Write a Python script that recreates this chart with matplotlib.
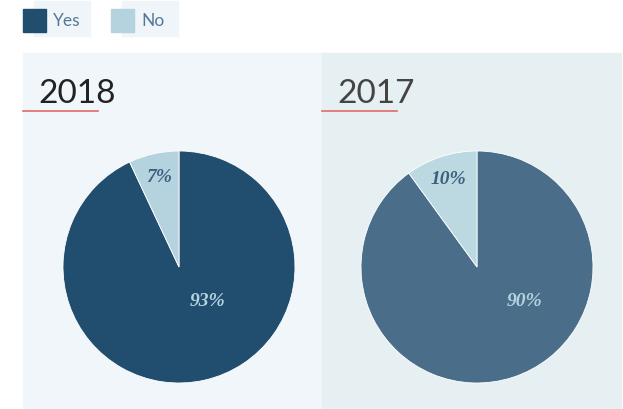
import matplotlib.pyplot as plt
from matplotlib.patches import Rectangle

# data
years = ["2018", "2017"]
yes_share = [93, 90]
no_share = [7, 10]
series = ["Yes", "No"]

W, H = 623, 410

yes_colors = ["#214d6e", "#4a6e8a"]
no_colors = ["#b5d3de", "#bcd8e0"]
panel_colors = ["#f0f6f9", "#e6f0f3"]
title_colors = ["#222222", "#444444"]


def fx(px):
    return px / W


def fy(py):
    return 1 - py / H


fig = plt.figure(figsize=(W / 100, H / 100), dpi=100)
fig.patch.set_facecolor("white")

# legend
legend_x = [23, 111]
legend_colors = [yes_colors[0], no_colors[0]]
for x0, name, col in zip(legend_x, series, legend_colors):
    fig.patches.append(Rectangle((fx(x0 + 11), fy(37)), fx(56), 35 / H,
                                 transform=fig.transFigure, color="#eff5f8", zorder=0))
    fig.patches.append(Rectangle((fx(x0), fy(33)), fx(23), 23 / H,
                                 transform=fig.transFigure, color=col, zorder=1))
    fig.text(fx(x0 + 30), fy(21.5), name, fontsize=12.5, color="#56789a",
             family="Lato", va="center", ha="left")

# panels
panel_x = [(23, 322), (322, 621)]
for i, (x0, x1) in enumerate(panel_x):
    fig.patches.append(Rectangle((fx(x0), 0), fx(x1 - x0), fy(54),
                                 transform=fig.transFigure, color=panel_colors[i], zorder=0))
    fig.text(fx(x0 + 15), fy(103), years[i], fontsize=24, color=title_colors[i],
             family="Lato", ha="left", va="baseline")
    fig.lines.append(plt.Line2D([fx(x0), fx(x0 + 75)], [fy(111.5), fy(111.5)],
                                transform=fig.transFigure, color="#e06a6a", lw=1.2))

# pies
centers = [179, 477]
r = 116
big_label_pos = [(0.25, -0.29), (0.41, -0.29)]
for i, cx in enumerate(centers):
    ax = fig.add_axes([fx(cx - r), fy(268 + r), fx(2 * r), 2 * r / H])
    ax.set_zorder(3)
    ax.set_facecolor("none")
    wedges, texts, autotexts = ax.pie(
        [yes_share[i], no_share[i]], colors=[yes_colors[i], no_colors[i]],
        startangle=90, counterclock=False, radius=1,
        autopct=lambda p: f"{p:.0f}%", pctdistance=0.8,
        wedgeprops=dict(linewidth=0.6, edgecolor="white"),
        textprops=dict(family="Liberation Serif", fontsize=14,
                       fontweight="bold", style="italic"))
    autotexts[0].set_position(big_label_pos[i])
    autotexts[0].set_color("#b5d3de")
    autotexts[1].set_color("#3d5f7c")
    ax.set_xlim(-1, 1)
    ax.set_ylim(-1, 1)
    ax.set_aspect("equal")
    ax.axis("off")

plt.savefig("out.png", dpi=100)
